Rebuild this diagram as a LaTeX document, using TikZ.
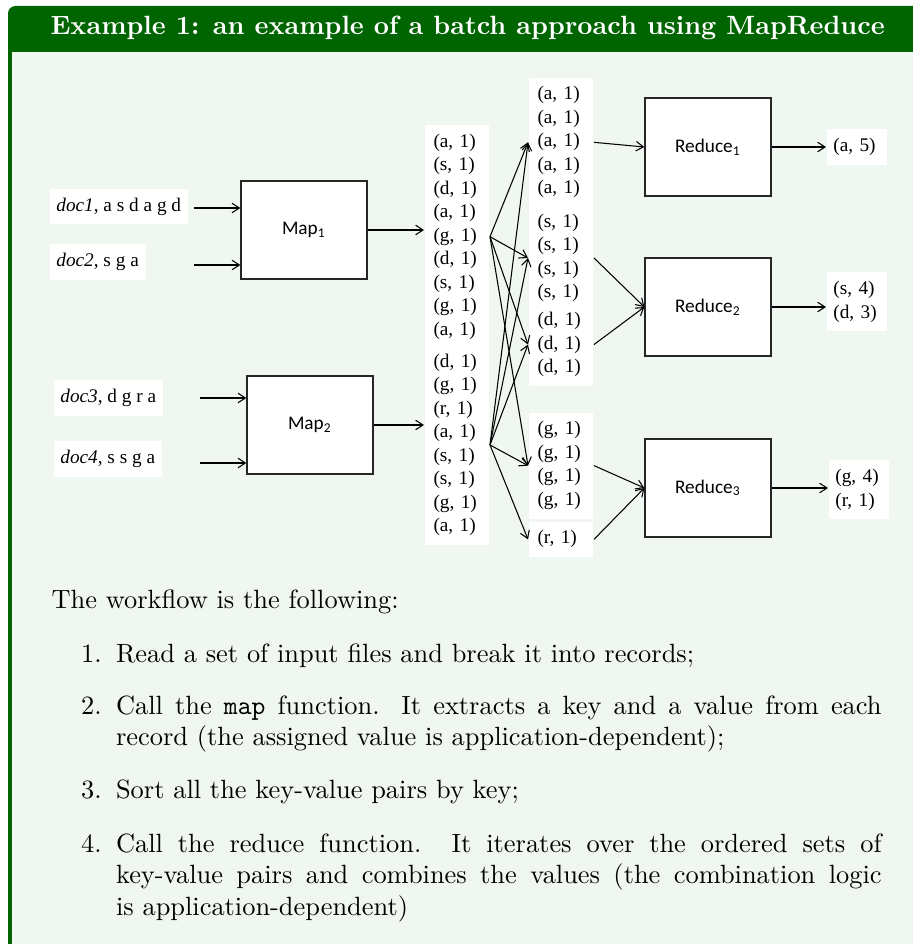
\documentclass[tikz,border=0pt]{standalone}
\usepackage{fontspec}
\usepackage{xcolor}
\usepackage{tikz}
\usetikzlibrary{arrows.meta, positioning, calc}
\newfontfamily\timesfont{Liberation Serif}
\newfontfamily\calibrifont{Carlito}
\newcommand{\pairfont}{\timesfont\fontsize{7.3}{8.9}\selectfont}
\newcommand{\stagefont}{\calibrifont\fontsize{7.3}{8.9}\selectfont}
\definecolor{frameg}{RGB}{0,100,0}
\definecolor{backg}{RGB}{240,247,240}

\begin{document}
\begin{tikzpicture}[x=0.3788pt,y=-0.3788pt,
    >={Straight Barb[length=2.8pt,width=3.6pt]},
    stage/.style={draw=black!85,line width=0.5pt,fill=white,
      minimum width=47.7pt,minimum height=37.1pt,font=\stagefont},
    pairs/.style={fill=white,font=\pairfont,align=left,text width=17.8pt,
      inner xsep=3.4pt,inner ysep=3.4pt,anchor=north west},
    sums/.style={pairs,inner xsep=2.6pt},
    doc/.style={fill=white,font=\pairfont,anchor=west,
      inner xsep=2.6pt,minimum height=12.5pt},
    itemtext/.style={inner sep=0pt,anchor=base west,align=justify,
      text width=290pt}]
  \path[use as bounding box,clip](0,0) rectangle (913,944);
  \fill[frameg,rounded corners=2.8pt](8,6) rectangle (940,970);
  \fill[backg](12,52) rectangle (936,966);
  \node[anchor=base west,inner sep=0pt,text=white,font=\bfseries] (title)
    at (50,35) {Example 1: an example of a batch approach using MapReduce};

  % documents and map
  \node[doc] (doc1) at (49,206.5) {\textit{doc1}, a s d a g d};
  \node[doc] (doc2) at (49,262) {\textit{doc2}, s g a};
  \node[doc] (doc3) at (53,398) {\textit{doc3}, d g r a};
  \node[doc] (doc4) at (53,459) {\textit{doc4}, s s g a};
  \node[stage] (map1) at (304,230) {Map\textsubscript{1}};
  \node[stage] (map2) at (310,425) {Map\textsubscript{2}};
  \coordinate (in1) at (194,208);
  \coordinate (in2) at (194,265);
  \coordinate (in3) at (200,398);
  \coordinate (in4) at (200,463);
  \foreach \i/\m in {1/map1,2/map1,3/map2,4/map2}
    \draw[->](in\i)--(in\i -| \m.west);

  % map output
  \node[pairs] (out1) at (424,124.5)
    {(a, 1)\\(s, 1)\\(d, 1)\\(a, 1)\\(g, 1)\\(d, 1)\\(s, 1)\\(g, 1)\\(a, 1)};
  \node[pairs] (out2) at (424,344.5)
    {(d, 1)\\(g, 1)\\(r, 1)\\(a, 1)\\(s, 1)\\(s, 1)\\(g, 1)\\(a, 1)};
  \draw[->](map1.east)--(map1.east -| out1.west);
  \draw[->](map2.east)--(map2.east -| out2.west);

  % grouped by key
  \node[pairs] (ka) at (528,77.1) {(a, 1)\\(a, 1)\\(a, 1)\\(a, 1)\\(a, 1)};
  \node[pairs] (ks) at (528,204.5) {(s, 1)\\(s, 1)\\(s, 1)\\(s, 1)};
  \node[pairs] (kd) at (528,302.8) {(d, 1)\\(d, 1)\\(d, 1)};
  \node[pairs] (kg) at (528,412.1) {(g, 1)\\(g, 1)\\(g, 1)\\(g, 1)};
  \node[pairs] (kr) at (528,521.1) {(r, 1)};
  \foreach \k in {ka,ks,kd,kg}
    \draw[->](out1.east)--(\k.west);
  \foreach \k in {ka,ks,kd,kg,kr}
    \draw[->](out2.east)--(\k.west);

  % reduce
  \node[stage] (red1) at (708,147) {Reduce\textsubscript{1}};
  \node[stage] (red2) at (708,307) {Reduce\textsubscript{2}};
  \node[stage] (red3) at (708,488) {Reduce\textsubscript{3}};
  \draw[->](ka.east)--(red1.west);
  \draw[->](ks.east)--(red2.west);
  \draw[->](kd.east)--(red2.west);
  \draw[->](kg.east)--(red3.west);
  \draw[->](kr.east)--(red3.west);
  \node[sums] (sum1) at (826,128.8) {(a, 5)};
  \node[sums] (sum2) at (826,271.8) {(s, 4)\\(d, 3)};
  \node[sums] (sum3) at (828,459.8) {(g, 4)\\(r, 1)};
  \foreach \i in {1,2,3}
    \draw[->](red\i.east)--(red\i.east -| sum\i.west);

  % workflow text
  \node[anchor=base west,inner sep=0pt] (intro) at (51,608)
    {The workflow is the following:};
  \node[anchor=base east,inner sep=0pt] (n1) at (102.3,662) {1.};
  \node[itemtext] (item1) at (115.5,662)
    {Read a set of input files and break it into records;};
  \node[anchor=base east,inner sep=0pt] (n2) at (102.3,714) {2.};
  \node[itemtext] (item2) at (115.5,714)
    {Call the \texttt{map} function. It extracts a key and a value from each
     record (the assigned value is application-dependent);};
  \node[anchor=base east,inner sep=0pt] (n3) at (102.3,798) {3.};
  \node[itemtext] (item3) at (115.5,798)
    {Sort all the key-value pairs by key;};
  \node[anchor=base east,inner sep=0pt] (n4) at (102.3,852) {4.};
  \node[itemtext] (item4) at (115.5,852)
    {Call the reduce function. It iterates over the ordered sets of
     key-value pairs and combines the values (the combination logic\linebreak
     is application-dependent)};
\end{tikzpicture}
\end{document}
